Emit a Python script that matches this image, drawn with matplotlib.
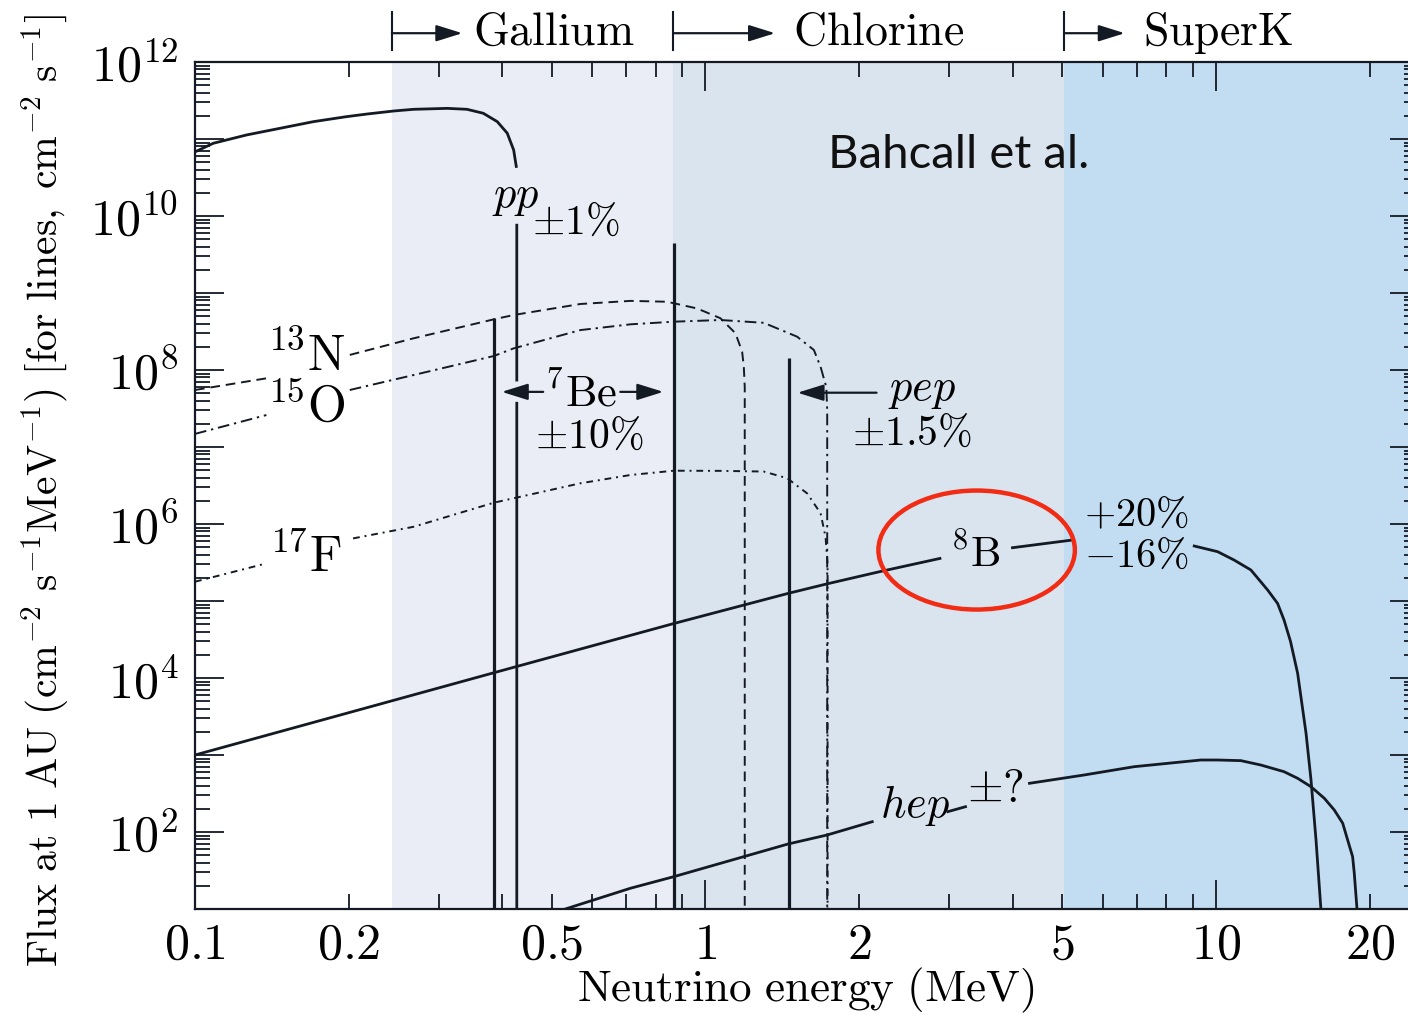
"""
Solar neutrino spectrum (Bahcall et al.) with detector thresholds.
"""
import numpy as np
import matplotlib
matplotlib.use("Agg")
import matplotlib.pyplot as plt
from matplotlib.patches import Ellipse
from matplotlib import transforms

plt.rcParams["mathtext.fontset"] = "cm"
plt.rcParams["font.family"] = ["DejaVu Serif"]

nan = np.nan
INK = "#141a24"

# ── DATA (energy in MeV, flux at 1 AU) ─────────────────────────────
pp_E = [0.1, 0.1086, 0.1263, 0.147, 0.1706, 0.198, 0.2172, 0.245, 0.268, 0.312, 0.341, 0.367,
        0.391, 0.409, 0.421, 0.426, nan, 0.427, 0.427, nan, 0.427, 0.427]
pp_F = [6.8e10, 8.8e10, 1.13e11, 1.38e11, 1.68e11, 1.95e11, 2.11e11, 2.31e11, 2.43e11, 2.5e11, 2.43e11, 2.16e11,
        1.68e11, 1.19e11, 7.2e10, 4.4e10, nan, 7.6e9, 7.4e7, nan, 3.7e7, 10]

be7_E = [0.386, 0.867]
be7_F = [4.7e8, 4.5e9]
pep_E = [1.457]
pep_F = [1.42e8]

n13_E = [0.1, 0.138, nan, 0.201, 0.268, 0.385, 0.421, 0.569, 0.713, 0.841, 0.963, 1.07, 1.145, 1.18, 1.189, 1.194, 1.194]
n13_F = [5.5e7, 7.8e7, nan, 1.57e8, 2.58e8, 4.55e8, 5.18e8, 7.2e8, 7.9e8, 7.7e8, 6.3e8, 4.7e8, 3.0e8, 1.73e8, 1.1e8, 6e7, 10]

o15_E = [0.1, 0.138, nan, 0.201, 0.268, 0.385, 0.421, 0.569, 0.713, 0.867, 1.07, 1.301, 1.512, 1.631, 1.681, 1.725, 1.732, 1.732]
o15_F = [1.48e7, 2.6e7, nan, 5.5e7, 8.6e7, 1.52e8, 1.91e8, 3.3e8, 3.92e8, 4.24e8, 4.46e8, 4.1e8, 2.71e8, 1.82e8, 1.1e8, 6e7, 3e7, 10]

f17_E = [0.1, 0.138, nan, 0.204, 0.268, 0.385, 0.421, 0.569, 0.713, 0.867, 1.07, 1.301, 1.446, 1.582, 1.681, 1.719, 1.735, 1.735]
f17_F = [1.78e5, 3.08e5, nan, 6.5e5, 9.2e5, 1.89e6, 2.16e6, 3.38e6, 4.33e6, 4.92e6, 4.9e6, 4.8e6, 3.93e6, 2.5e6, 1.38e6, 6.8e5, 3e5, 10]

b8_E = [0.1, 0.385, 0.867, 1.455, 1.731, 2.21, 2.88, nan, 3.995, 5.24, nan,
        9.07, 10.08, 10.86, 11.71, 12.63, 13.21, 13.6, 14.0, 14.46, 15.02, 15.36, 15.71, 16.06]
b8_F = [1.0e3, 1.17e4, 5.1e4, 1.26e5, 1.67e5, 2.43e5, 3.57e5, nan, 4.92e5, 6.2e5, nan,
        5.18e5, 4.37e5, 3.4e5, 2.53e5, 1.39e5, 9.3e4, 5.66e4, 3.0e4, 1.15e4, 1.91e3, 473, 78.7, 10]

hep_E = [0.5315, 0.713, 0.867, 1.451, 1.731, 2.122, nan, 2.987, 3.232, nan,
         4.314, 5.52, 6.916, 9.346, 10.08, 11.19, 12.25, 13.6, 14.46, 15.36, 16.31, 17.06, 17.72,
         18.12, 18.53, 18.67, 18.9]
hep_F = [10, 18.6, 26.3, 69.8, 91.4, 136, nan, 184, 213, nan,
         429, 550, 705, 861, 861, 845, 741, 607, 498, 387, 274, 193, 130,
         78.7, 47.9, 29.1, 10]

# detector thresholds (MeV) and shading
det_names = ["Gallium", "Chlorine", "SuperK"]
det_E = [0.243, 0.865, 5.05]
det_arrow_end = [0.334, 1.369, 6.63]
det_text_E = [0.351, 1.484, 7.19]
band_edges = [0.1, 0.243, 0.865, 5.05, 25]
band_colors = ["#ffffff", "#eaedf5", "#dae4ef", "#c2ddf1"]

# ── FIGURE ─────────────────────────────────────────────────────────
fig = plt.figure(figsize=(14.08, 10.15), dpi=100)
ax = fig.add_axes([195/1408, 106/1015, 1224/1408, 847/1015])
ax.set_xscale("log"); ax.set_yscale("log")
ax.set_xlim(0.1, 25); ax.set_ylim(10, 1e12)

for x0, x1, c in zip(band_edges[:-1], band_edges[1:], band_colors):
    ax.axvspan(x0, x1, color=c, lw=0, zorder=0)

lw = 2.0
ax.plot(pp_E, pp_F, color=INK, lw=lw)
ax.vlines(be7_E, 10, be7_F, color=INK, lw=2.3)
ax.vlines(pep_E, 10, pep_F, color=INK, lw=2.3)
ax.plot(n13_E, n13_F, color=INK, lw=1.4, ls=(0, (5, 3)))
ax.plot(o15_E, o15_F, color=INK, lw=1.4, ls=(0, (6, 2.5, 1.2, 2.5)))
ax.plot(f17_E, f17_F, color=INK, lw=1.4, ls=(0, (3.5, 2.5, 1, 2.5)))
ax.plot(b8_E, b8_F, color=INK, lw=lw)
ax.plot(hep_E, hep_F, color=INK, lw=lw)

# ── LABELS ─────────────────────────────────────────────────────────
fs = 30
iso = 36
ax.text(0.426, 1.77e10, r"$pp$", fontsize=fs+2, ha="center", va="center")
ax.text(0.558, 8.4e9, r"$\pm1\%$", fontsize=fs, ha="center", va="center")
ax.text(0.197, 1e8, r"$^{13}\mathrm{N}$", fontsize=iso, ha="right", va="baseline")
ax.text(0.197, 2.13e7, r"$^{15}\mathrm{O}$", fontsize=iso, ha="right", va="baseline")
ax.text(0.194, 2.4e5, r"$^{17}\mathrm{F}$", fontsize=iso, ha="right", va="baseline")
ax.text(0.571, 3.33e7, r"$^{7}\mathrm{Be}$", fontsize=fs+2, ha="center", va="baseline")
ax.text(0.592, 9.7e6, r"$\pm10\%$", fontsize=fs, ha="center", va="baseline")
ax.text(2.275, 4.07e7, r"$pep$", fontsize=fs+2, ha="left", va="baseline")
ax.text(2.535, 1.06e7, r"$\pm1.5\%$", fontsize=fs, ha="center", va="baseline")
ax.text(3.38, 2.74e5, r"$^{8}\mathrm{B}$", fontsize=fs+1, ha="center", va="baseline")
ax.text(5.51, 9.4e5, r"$+20\%$", fontsize=fs-1, ha="left", va="baseline")
ax.text(5.51, 2.77e5, r"$-16\%$", fontsize=fs-1, ha="left", va="baseline")
ax.text(2.199, 158, r"$hep$", fontsize=fs+2, ha="left", va="baseline")
ax.text(3.26, 248, r"$\pm?$", fontsize=fs+3, ha="left", va="baseline")

arrow_kw = dict(arrowstyle="-|>,head_length=0.8,head_width=0.25", color=INK, lw=1.6,
                shrinkA=0, shrinkB=0, mutation_scale=20)
ax.annotate("", xy=(0.399, 5.2e7), xytext=(0.481, 5.2e7), arrowprops=arrow_kw)
ax.annotate("", xy=(0.827, 5.2e7), xytext=(0.681, 5.2e7), arrowprops=arrow_kw)
ax.annotate("", xy=(1.515, 5.07e7), xytext=(2.164, 5.07e7), arrowprops=arrow_kw)

# detector threshold markers above the axes
trans = transforms.blended_transform_factory(ax.transData, ax.transAxes)
for name, e, e_arr, e_txt in zip(det_names, det_E, det_arrow_end, det_text_E):
    ax.plot([e, e], [1.0142, 1.059], color=INK, lw=1.5, transform=trans, clip_on=False)
    ax.annotate("", xy=(e_arr, 1.034), xytext=(e, 1.034), xycoords=trans, textcoords=trans,
                arrowprops=arrow_kw, annotation_clip=False)
    ax.text(e_txt, 1.0201, r"$\mathrm{%s}$" % name, fontsize=33, ha="left", va="baseline",
            transform=trans, clip_on=False)

ax.text(0.517, 0.890, "Bahcall et al.", fontsize=34, family="Lato", color="#111111",
        ha="left", va="center", transform=ax.transAxes)
ax.add_patch(Ellipse((0.6386, 0.4238), 0.1605, 0.1405, transform=ax.transAxes,
                     fill=False, ec="#f22b14", lw=3.2, zorder=5))

# ── AXES STYLE ─────────────────────────────────────────────────────
ax.set_xticks([0.1, 1, 10], labels=[r"$0.1$", r"$1$", r"$10$"])
xminor = [0.2, 0.3, 0.4, 0.5, 0.6, 0.7, 0.8, 0.9, 2, 3, 4, 5, 6, 7, 8, 9, 20]
xminor_lab = {0.2: r"$0.2$", 0.5: r"$0.5$", 2: r"$2$", 5: r"$5$", 20: r"$20$"}
ax.set_xticks(xminor, labels=[xminor_lab.get(v, "") for v in xminor], minor=True)

ymajor = [10.0**n for n in range(1, 13)]
ax.set_yticks(ymajor, labels=[r"$10^{%d}$" % n if n % 2 == 0 else "" for n in range(1, 13)])
yminor = [k * 10.0**n for n in range(1, 12) for k in range(2, 10)]
ax.set_yticks(yminor, labels=["" for _ in yminor], minor=True)

ax.tick_params(which="both", direction="in", top=True, right=True, color=INK, width=1.3,
               labelsize=36)
ax.tick_params(axis="x", which="both", pad=8)
ax.tick_params(axis="y", which="both", pad=12)
ax.tick_params(which="major", length=21)
ax.tick_params(which="minor", length=11)
for s in ax.spines.values():
    s.set_linewidth(1.6); s.set_color(INK)

fig.text(0.5725, 0.0246, r"$\mathrm{Neutrino\ energy\ (MeV)}$", fontsize=32.5, ha="center", va="center")
fig.text(0.032, 0.517,
         r"$\mathrm{Flux\ at\ 1\ AU\ (cm^{-2}\ s^{-1}MeV^{-1})\ [for\ lines,\ cm^{-2}\ s^{-1}]}$",
         fontsize=30, rotation=90, ha="center", va="center")

plt.savefig("out.png", dpi=100)
